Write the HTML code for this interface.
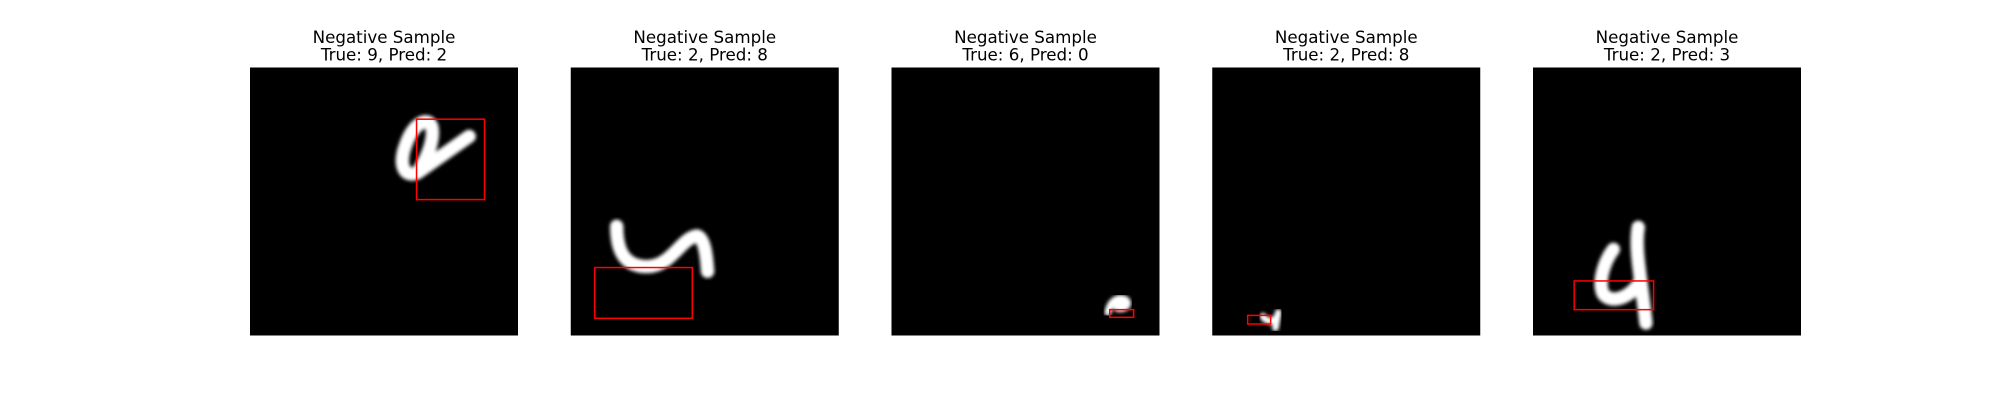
<!DOCTYPE html>
<html><head><meta charset="utf-8"><style>
html,body{margin:0;padding:0;background:#fff;width:2000px;height:400px;overflow:hidden}
svg{display:block}
text{font-family:"DejaVu Sans","Liberation Sans",sans-serif;font-size:16.7px;fill:#000}
</style></head><body>
<svg id="fig" width="2000" height="400" viewBox="0 0 2000 400">
<defs><filter id="blur" x="-20%" y="-20%" width="140%" height="140%"><feGaussianBlur stdDeviation="0.2"/></filter></defs>
</svg>
<script>
const trueLabels=[9,2,6,2,2];
const predLabels=[2,8,0,8,3];
// bounding boxes in 28x28 image coords: x, y, w, h
const boxX=[17.4,2.5,22.8,3.7,4.3];
const boxY=[5.4,20.9,25.3,25.9,22.3];
const boxW=[7.1,10.2,2.5,2.4,8.3];
const boxH=[8.4,5.3,0.8,0.9,3.0];
const digitPaths=[
 "M22.9,7.2 L17.5,11 C16,11.6 15.5,10 16.3,8 C17,6 18.5,5 19,6.2 C19.3,7.5 18.5,9.5 17.5,11",
 "M4.8,16.6 C4.8,19 5.5,20.8 8,20.8 C10.5,20.8 11.5,17.8 13.2,17.6 C14,17.8 14.2,19.8 14.3,21.3",
 "M22.6,25.6 C22.8,24.4 23.6,23.9 24.4,24.2 C25,24.6 24.6,25.2 23.8,25.2 C23.2,25.1 23.4,24.6 24,24.6",
 "M5.3,26 C5.6,26.5 6.2,26.7 6.6,26.2 M6.9,25.6 L6.6,27.2",
 "M11,16.7 C10.6,19 11.3,22 11.8,26.7 M8.4,19 C7.4,20.3 6.8,22.4 7.3,23.6 C8,24.6 9.8,24.4 11.2,22.4"
];
const left0=250, step=320.75, top0=67.5, size=268, N=28;
const svg=document.getElementById('fig');
const NS='http://www.w3.org/2000/svg';
function mk(t,a){const e=document.createElementNS(NS,t);for(const k in a)e.setAttribute(k,a[k]);return e;}
for(let i=0;i<trueLabels.length;i++){
  const L=left0+i*step, s=size/N;
  const g=mk('g',{});
  
  
  const t1=mk('text',{x:L+size/2,y:43,'text-anchor':'middle'});
  t1.textContent='Negative Sample';
  
  
  const t2=mk('text',{x:L+size/2,y:60.5,'text-anchor':'middle'});
  t2.textContent='True: '+trueLabels[i]+', Pred: '+predLabels[i];
  
  
  const bg=mk('rect',{x:L,y:top0,width:size,height:size,fill:'#000'});
  
  
  const ig=mk('g',{transform:'translate('+L+','+top0+') scale('+s+')'});
  const d=mk('path',{d:digitPaths[i],fill:'none',stroke:'#fff','stroke-width':i==2||i==3?0.7:1.4,'stroke-linecap':'round','stroke-linejoin':'round',filter:'url(#blur)'});
  
  
  ig.appendChild(d);
  const b=mk('rect',{x:L+boxX[i]*s,y:top0+boxY[i]*s,width:boxW[i]*s,height:boxH[i]*s,fill:'none',stroke:'#f00','stroke-width':1.5});
  
  
  g.append(t1,t2,bg,ig,b);
  svg.appendChild(g);
}
</script>
</body></html>
